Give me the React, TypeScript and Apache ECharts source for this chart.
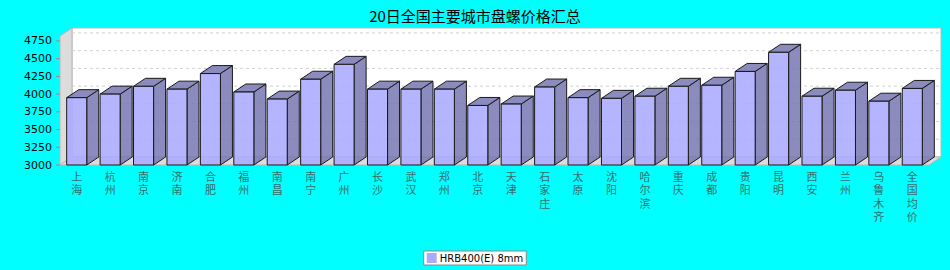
import React, { useEffect, useRef } from "react";
import * as echarts from "echarts";

const TITLE = "20日全国主要城市盘螺价格汇总";
const SERIES_NAME = "HRB400(E) 8mm";
const cities = [
  "上海", "杭州", "南京", "济南", "合肥", "福州", "南昌", "南宁", "广州", "长沙",
  "武汉", "郑州", "北京", "天津", "石家庄", "太原", "沈阳", "哈尔滨", "重庆", "成都",
  "贵阳", "昆明", "西安", "兰州", "乌鲁木齐", "全国均价",
];
const prices = [
  3950, 4000, 4110, 4070, 4290, 4030, 3930, 4210, 4420, 4070,
  4070, 4070, 3840, 3860, 4100, 3950, 3940, 3970, 4110, 4125,
  4320, 4590, 3970, 4055, 3900, 4080,
];
const yTicks = [3000, 3250, 3500, 3750, 4000, 4250, 4500, 4750];
const Y_MIN = 3000;
const Y_MAX = 4820;
const Y_STEP = 250;

const DX = 12;
const DY = 8;

export default function App() {
  const ref = useRef<HTMLDivElement>(null);
  useEffect(() => {
    if (!ref.current) return;
    const chart = echarts.init(ref.current, null, { renderer: "svg" });
    const option: any = {
      animation: false,
      backgroundColor: "#00ffff",
      title: {
        text: TITLE,
        left: "center",
        top: 3,
        textStyle: { fontSize: 15, fontWeight: "normal", color: "#000", fontFamily: "Noto Sans CJK SC" },
      },
      legend: {
        top: 251,
        left: "center",
        data: [{ name: SERIES_NAME, icon: "rect" }],
        itemWidth: 10,
        itemHeight: 10,
        padding: [2, 3, 2, 3],
        backgroundColor: "#fff",
        borderColor: "#888",
        borderWidth: 1,
        textStyle: { fontSize: 10, color: "#000", fontFamily: "DejaVu Sans", padding: [0, 0, 0, -2] },
      },
      grid: { left: 60, right: 21, top: 36, bottom: 105, containLabel: false },
      xAxis: {
        type: "category",
        data: cities,
        axisLine: { show: false },
        axisTick: { show: false },
        splitLine: { show: false },
        axisLabel: {
          interval: 0,
          formatter: (s: string) => s.split("").join("\n"),
          fontSize: 11,
          lineHeight: 13.5,
          color: "#3d6b6b",
          fontFamily: "Noto Sans CJK SC",
          margin: 4,
        },
      },
      yAxis: {
        type: "value",
        min: Y_MIN,
        max: Y_MAX,
        interval: Y_STEP,
        axisLine: { show: false },
        axisTick: { show: false },
        splitLine: { show: false },
        axisLabel: {
          formatter: (v: number) => (v % Y_STEP === 0 ? String(v) : ""),
          fontSize: 11,
          color: "#000",
          fontFamily: "DejaVu Sans",
          margin: 8,
        },
      },
      series: [
        {
          type: "custom",
          name: "__frame",
          silent: true,
          z: 1,
          data: [[0, Y_MIN]],
          renderItem: (params: any, api: any) => {
            const cs = params.coordSys;
            const x0 = cs.x, y0 = cs.y, x1 = cs.x + cs.width, y1 = cs.y + cs.height;
            const children: any[] = [];
            children.push({
              type: "rect",
              shape: { x: x0 + DX, y: y0 - DY, width: x1 - x0, height: y1 - y0 },
              style: { fill: "#ffffff", stroke: "#b8b8b8", lineWidth: 1 },
            });
            children.push({
              type: "polygon",
              shape: { points: [[x0, y0], [x0 + DX, y0 - DY], [x0 + DX, y1 - DY], [x0, y1]] },
              style: { fill: "#dcdcdc", stroke: "#b8b8b8", lineWidth: 1 },
            });
            children.push({
              type: "polygon",
              shape: { points: [[x0, y1], [x0 + DX, y1 - DY], [x1 + DX, y1 - DY], [x1, y1]] },
              style: { fill: "#dcdcdc", stroke: "#b8b8b8", lineWidth: 1 },
            });
            yTicks.forEach((t) => {
              const y = api.coord([0, t])[1];
              if (t > Y_MIN) {
                children.push({
                  type: "line",
                  shape: { x1: x0 + DX, y1: y - DY, x2: x1 + DX, y2: y - DY },
                  style: { stroke: "#d0d0d0", lineWidth: 1, lineDash: [3, 3] },
                });
              }
              children.push({
                type: "line",
                shape: { x1: x0 - 4, y1: y, x2: x0, y2: y },
                style: { stroke: "#b08080", lineWidth: 1 },
              });
            });
            return { type: "group", children };
          },
        },
        {
          type: "custom",
          name: SERIES_NAME,
          z: 2,
          itemStyle: { color: "#aaaaff" },
          data: prices.map((v, i) => [i, v]),
          encode: { x: 0, y: 1 },
          renderItem: (params: any, api: any) => {
            const i = api.value(0);
            const v = api.value(1);
            const top = api.coord([i, v]);
            const base = api.coord([i, Y_MIN]);
            const w = api.size([1, 0])[0] * 0.6;
            const xa = top[0] - w / 2;
            const xb = top[0] + w / 2;
            const yT = top[1];
            const yB = base[1];
            const stroke = "#1a1a1a";
            return {
              type: "group",
              children: [
                {
                  type: "polygon",
                  shape: { points: [[xb, yT], [xb + DX, yT - DY], [xb + DX, yB - DY], [xb, yB]] },
                  style: { fill: "rgba(119,119,178,0.85)", stroke, lineWidth: 1 },
                },
                {
                  type: "polygon",
                  shape: { points: [[xa, yT], [xa + DX, yT - DY], [xb + DX, yT - DY], [xb, yT]] },
                  style: { fill: "rgba(119,119,178,0.85)", stroke, lineWidth: 1 },
                },
                {
                  type: "rect",
                  shape: { x: xa, y: yT, width: w, height: yB - yT },
                  style: { fill: "rgba(170,170,255,0.88)", stroke, lineWidth: 1 },
                },
              ],
            };
          },
        },
      ],
    };
    chart.setOption(option);
    return () => chart.dispose();
  }, []);
  return (
    <div
      ref={ref}
      style={{ position: "fixed", left: 0, top: 0, width: 950, height: 270 }}
    />
  );
}
